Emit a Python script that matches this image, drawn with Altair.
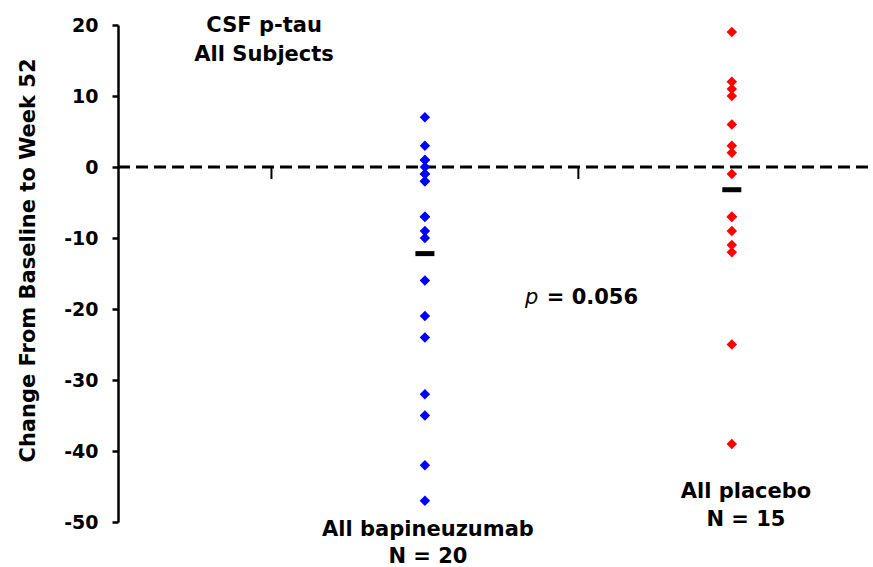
import altair as alt
import pandas as pd

# ---- data ----
bapi_vals = [7, 3, 1, 1, 0, -1, -1, -2, -2, -7, -7, -9, -10, -16, -21, -24, -32, -35, -42, -47]
placebo_vals = [19, 12, 11, 10, 6, 3, 2, -1, -7, -7, -9, -11, -12, -25, -39]
group_names = ["All bapineuzumab", "All placebo"]
group_pos = [1, 2]
group_means = [-12.2, -3.2]
group_n = ["N = 20", "N = 15"]
group_colors = ["#0000FF", "#FF0000"]
y_ticks = [-50, -40, -30, -20, -10, 0, 10, 20]
x_tick_marks = [0.5, 1.5]

FONT = "DejaVu Sans"

pts = pd.DataFrame(
    {"group": [group_names[0]] * len(bapi_vals) + [group_names[1]] * len(placebo_vals),
     "x": [group_pos[0]] * len(bapi_vals) + [group_pos[1]] * len(placebo_vals),
     "value": bapi_vals + placebo_vals}
)
means_df = pd.DataFrame({"x": group_pos, "mean": group_means})

xscale = alt.Scale(domain=[0, 2.46], nice=False, zero=False)
yscale = alt.Scale(domain=[-50, 20], nice=False, zero=False)

yaxis = alt.Axis(
    values=y_ticks, grid=False, domainColor="black", domainWidth=2.5,
    tickColor="black", tickWidth=2.5, tickSize=6, labelFont=FONT, labelFontWeight="bold",
    labelFontSize=19, labelColor="black", labelPadding=14, labelExpr="'' + datum.value",
    title="Change From Baseline to Week 52", titleFont=FONT, titleFontWeight="bold",
    titleFontSize=21, titleColor="black", titleAngle=-90, titleX=-90, titleY=235,
    titleAlign="center", titleBaseline="middle",
)

base_x = alt.X("x:Q", scale=xscale, axis=None)

points = alt.Chart(pts).mark_point(shape="diamond", filled=True, size=110, opacity=1).encode(
    x=base_x,
    y=alt.Y("value:Q", scale=yscale, axis=yaxis),
    color=alt.Color("group:N", scale=alt.Scale(domain=group_names, range=group_colors), legend=None),
)

zero_df = pd.DataFrame({"x": [0], "x2": [2.46], "y": [0]})
zero_line = alt.Chart(zero_df).mark_rule(color="black", strokeWidth=3, strokeDash=[12, 6]).encode(
    x=base_x, x2="x2:Q", y=alt.Y("y:Q", scale=yscale)
)

xt_df = pd.DataFrame({"x": x_tick_marks, "y": [0] * len(x_tick_marks), "y2": [-1.7] * len(x_tick_marks)})
xticks = alt.Chart(xt_df).mark_rule(color="black", strokeWidth=2).encode(
    x=base_x, y=alt.Y("y:Q", scale=yscale), y2="y2:Q"
)

mean_marks = alt.Chart(means_df).mark_tick(orient="horizontal", color="black", size=19, thickness=5, opacity=1).encode(
    x=base_x, y=alt.Y("mean:Q", scale=yscale)
)

def txt(df, **kw):
    return alt.Chart(df).mark_text(font=FONT, fontWeight="bold", fontSize=21, color="black",
                                   baseline="alphabetic", **kw).encode(
        x=base_x, y=alt.Y("y:Q", scale=yscale), text="t:N")

title_df = pd.DataFrame({"x": [0.476, 0.476], "y": [19.0, 14.9], "t": ["CSF p-tau", "All Subjects"]})
cat_df = pd.DataFrame({"x": [1.01, 1.01, 2.046, 2.046],
                       "y": [-52.0, -55.8, -46.6, -50.6],
                       "t": [group_names[0], group_n[0], group_names[1], group_n[1]]})
p_df = pd.DataFrame({"x": [1.326], "y": [-19.3], "t": ["p"]})
pv_df = pd.DataFrame({"x": [1.397], "y": [-19.3], "t": ["= 0.056"]})

title_txt = txt(title_df, align="center")
cat_txt = txt(cat_df, align="center")
p_txt = alt.Chart(p_df).mark_text(font=FONT, fontStyle="italic", fontSize=21, color="black",
                                  baseline="alphabetic", align="left").encode(
    x=base_x, y=alt.Y("y:Q", scale=yscale), text="t:N")
pv_txt = txt(pv_df, align="left")

chart = alt.layer(
    zero_line, xticks, points, mean_marks, title_txt, cat_txt, p_txt, pv_txt
).properties(
    width=755, height=497,
    autosize=alt.AutoSizeParams(type="none"),
    padding={"left": 118, "top": 25, "right": 0, "bottom": 45},
    background="white",
).configure_view(stroke=None)

chart.save("out.html", embed_options={"renderer": "svg", "actions": False})
